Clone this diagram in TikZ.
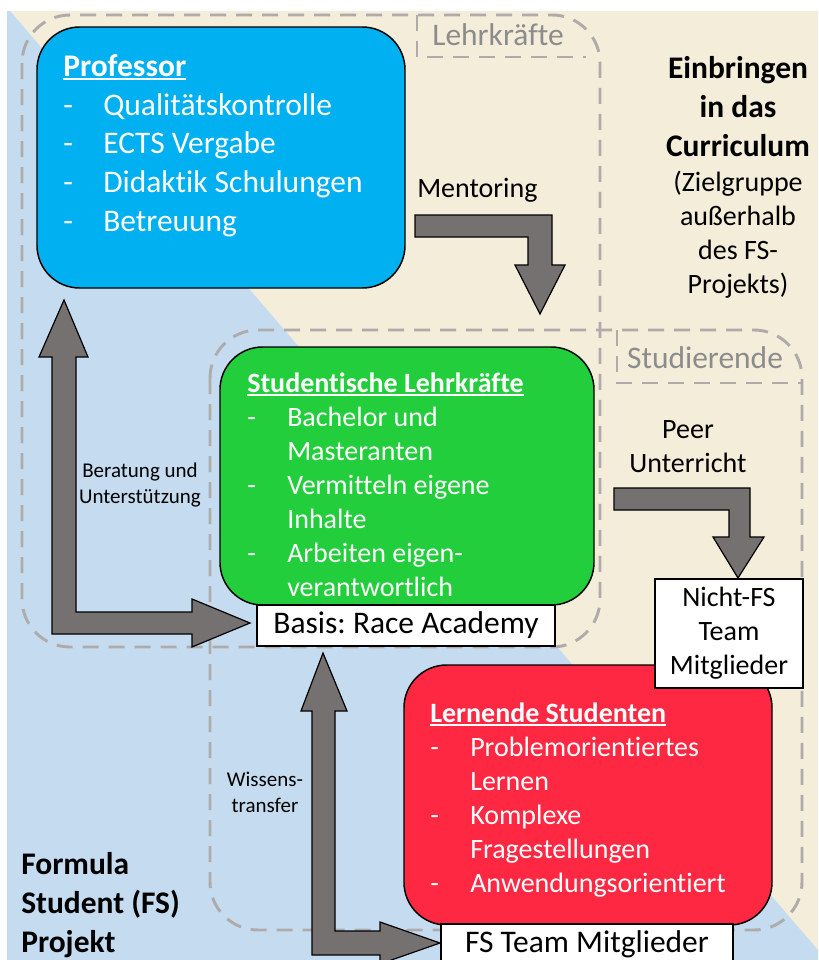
\documentclass[tikz,border=0pt]{standalone}
\usepackage{fontspec}
\setmainfont{Carlito}[Ligatures=CommonOff]
\frenchspacing
\definecolor{grundblau}{HTML}{C5DCF0}
\definecolor{grundbeige}{HTML}{F3EDDA}
\definecolor{profblau}{HTML}{00B0F0}
\definecolor{lehrgruen}{HTML}{22CE3B}
\definecolor{lernrot}{HTML}{FF2842}
\definecolor{pfeilgrau}{HTML}{767171}
\definecolor{strichgrau}{HTML}{AFABAB}
\definecolor{tabgrau}{HTML}{8C8C8C}
\newcommand\kopf[1]{\setbox0\hbox{\bfseries #1}\rlap{\rule[-2.8pt]{\wd0}{1.6pt}}\box0}
\newcommand\pkt{\makebox[30pt][l]{-}}
\newcommand\weiter{\hspace*{30pt}}

\begin{document}
\begin{tikzpicture}[x=0.75pt, y=-0.75pt,
  font=\fontsize{21}{25.5}\selectfont,
  gross/.style={font=\fontsize{23.6}{29}\selectfont},
  dick/.style={font=\fontsize{23.6}{29}\selectfont\bfseries},
  klein/.style={font=\fontsize{15.75}{19.5}\selectfont},
  feld/.style={draw=black, line width=1.1pt, rounded corners=32pt, inner sep=0pt},
  schild/.style={draw=black, line width=1.1pt, fill=white, inner sep=0pt, align=center},
  rahmen/.style={draw=strichgrau, line width=2.2pt, dash pattern=on 12pt off 7.5pt, rounded corners=36pt},
  pfeil/.style={draw=black, line width=0.9pt, fill=pfeilgrau},
  liste/.style={anchor=base west, align=left, inner sep=0pt, text=white},
  notiz/.style={anchor=base, align=center, inner sep=0pt},
]
  \useasboundingbox (0,0) rectangle (818,960);
  % hintergrund
  \fill[grundbeige] (7,11) rectangle (818,960);
  \fill[grundblau] (7,11) -- (10,11) -- (818,950) -- (818,960) -- (7,960) -- cycle;

  % gruppen
  \draw[rahmen] (22,15) rectangle (600,647);
  \draw[rahmen, rounded corners=0pt] (417,15) -- (417,57) -- (586,57);
  \node[gross, anchor=base, inner sep=0pt, text=tabgrau] (lehrtab) at (498,45) {Lehrkräfte};
  \draw[rahmen] (210,330) rectangle (802,930);
  \draw[rahmen, rounded corners=0pt] (617,330) -- (617,383) -- (802,383);
  \node[gross, anchor=base, inner sep=0pt, text=tabgrau] (studtab) at (705,368) {Studierende};

  % felder (mehrzeilig: base = letzte zeile)
  \node[feld, fill=profblau, minimum width=276pt, minimum height=195.75pt] (prof) at (221,157.5) {};
  \node[liste, gross] (proftext) at (63,231) {\kopf{Professor}\\ \pkt Qualitätskontrolle\\ \pkt ECTS Vergabe\\ \pkt Didaktik Schulungen\\ \pkt Betreuung};

  \node[feld, fill=lehrgruen, minimum width=280.5pt, minimum height=193.5pt] (lehr) at (407,476) {};
  \node[liste] (lehrtext) at (247,596) {\kopf{Studentische Lehrkräfte}\\ \pkt Bachelor und\\ \weiter Masteranten\\ \pkt Vermitteln eigene\\ \weiter Inhalte\\ \pkt Arbeiten eigen-\\ \weiter verantwortlich};
  \node[schild, gross, minimum width=223.5pt, minimum height=30.75pt] (basis) at (406,625.5) {Basis: Race Academy};

  \node[feld, fill=lernrot, minimum width=276pt, minimum height=195pt] (lern) at (588,795) {};
  \node[liste] (lerntext) at (430,892) {\kopf{Lernende Studenten}\\ \pkt Problemorientiertes\\ \weiter Lernen\\ \pkt Komplexe\\ \weiter Fragestellungen\\ \pkt Anwendungsorientiert};
  \node[schild, gross, minimum width=219pt, minimum height=30.75pt] (fsteam) at (587,944.5) {FS Team Mitglieder};
  \node[schild, minimum width=111pt, minimum height=81.75pt] (nichtfs) at (729,633.5) {Nicht-FS\\Team\\Mitglieder};

  % pfeile
  \draw[pfeil] (415,215) -- (552,215) -- (552,265) -- (565,265) -- (540,314) -- (515,265) -- (528,265) -- (528,237) -- (415,237) -- cycle;
  \draw[pfeil] (614,488) -- (750,488) -- (750,537) -- (764,537) -- (738,578) -- (713,537) -- (729,537) -- (729,510) -- (614,510) -- cycle;
  \draw[pfeil] (52,634) -- (52,357) -- (39,357) -- (64,300) -- (88,357) -- (76,357) -- (76,612) -- (192,612) -- (192,599) -- (250,623) -- (192,647) -- (192,634) -- cycle;
  \draw[pfeil] (312,955) -- (312,711) -- (301,711) -- (323,653) -- (347,711) -- (335,711) -- (335,931) -- (380,931) -- (380,922) -- (440,943) -- (380,964) -- (380,955) -- cycle;

  % beschriftung
  \node[anchor=base west, inner sep=0pt] (mentoring) at (417,197) {Mentoring};
  \node[notiz] (peer) at (688,472) {Peer\\Unterricht};
  \node[notiz, klein] (beratung) at (140,503) {Beratung und\\Unterstützung};
  \node[notiz, klein] (wissen) at (265,812) {Wissens-\\transfer};
  \node[notiz, dick] (einbringen) at (738,156) {Einbringen\\in das\\Curriculum};
  \node[notiz] (zielgruppe) at (738,293) {(Zielgruppe\\außerhalb\\des FS-\\Projekts)};
  \node[dick, anchor=base west, align=left, inner sep=0pt] (fsprojekt) at (21,952) {Formula\\Student (FS)\\Projekt};
\end{tikzpicture}
\end{document}
